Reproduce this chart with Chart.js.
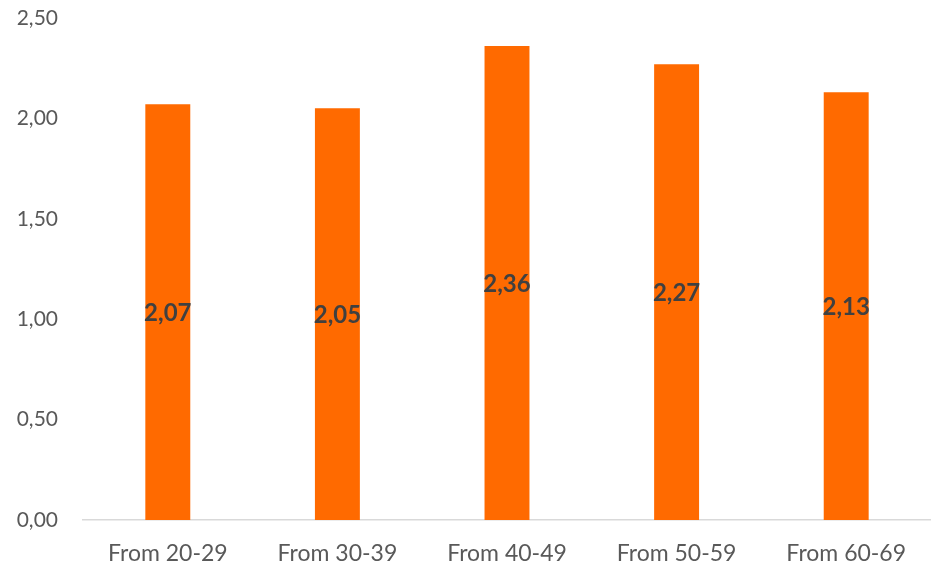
<!DOCTYPE html>
<html>
<head>
<meta charset="utf-8">
<script src="https://cdn.jsdelivr.net/npm/chart.js@4"></script>
<style>
  html, body { margin: 0; padding: 0; background: #fff; }
  #wrap { width: 931px; height: 566px; }
</style>
</head>
<body>
<div id="wrap"><canvas id="c" width="931" height="566"></canvas></div>
<script>
// Age groups and their average values
const categories = ["From 20-29", "From 30-39", "From 40-49", "From 50-59", "From 60-69"];
const values = [2.07, 2.05, 2.36, 2.27, 2.13];
const yTicks = [0, 0.5, 1, 1.5, 2, 2.5];

const fmt = v => v.toFixed(2).replace('.', ',');

// Writes each bar's value in the middle of the bar
const centerLabels = {
  id: 'centerLabels',
  afterDatasetsDraw(chart) {
    const ctx = chart.ctx;
    const meta = chart.getDatasetMeta(0);
    ctx.save();
    ctx.font = 'bold 24px Lato';
    ctx.fillStyle = '#404040';
    ctx.textAlign = 'center';
    ctx.textBaseline = 'middle';
    meta.data.forEach((bar, i) => {
      const y = (bar.y + bar.base) / 2;
      ctx.fillText(fmt(values[i]), bar.x, y + 1);
    });
    ctx.restore();
  }
};

new Chart(document.getElementById('c'), {
  type: 'bar',
  data: {
    labels: categories,
    datasets: [{
      data: values,
      backgroundColor: '#FF6A00',
      borderWidth: 0,
      barPercentage: 0.265,
      categoryPercentage: 1
    }]
  },
  options: {
    responsive: false,
    animation: false,
    layout: { padding: { top: 18, right: 0, left: 0, bottom: 0 } },
    plugins: { legend: { display: false }, tooltip: { enabled: false } },
    scales: {
      x: {
        grid: { display: false, drawTicks: false },
        border: { display: true, color: '#D9D9D9', width: 1.5 },
        ticks: { color: '#595959', font: { family: 'Lato', size: 23 }, padding: 20 },
        afterFit(s) { s.height = 46; s.paddingLeft = 0; s.paddingRight = 0; }
      },
      y: {
        min: 0, max: 2.5,
        afterBuildTicks(s) { s.ticks = yTicks.map(v => ({ value: v })); },
        grid: { display: false, drawTicks: false },
        border: { display: false },
        ticks: {
          color: '#595959',
          font: { family: 'Lato', size: 21 },
          padding: 25,
          callback: v => fmt(v)
        },
        afterFit(s) { s.width = 83; s.paddingTop = 0; s.paddingBottom = 0; }
      }
    }
  },
  plugins: [centerLabels]
});
</script>
</body>
</html>
